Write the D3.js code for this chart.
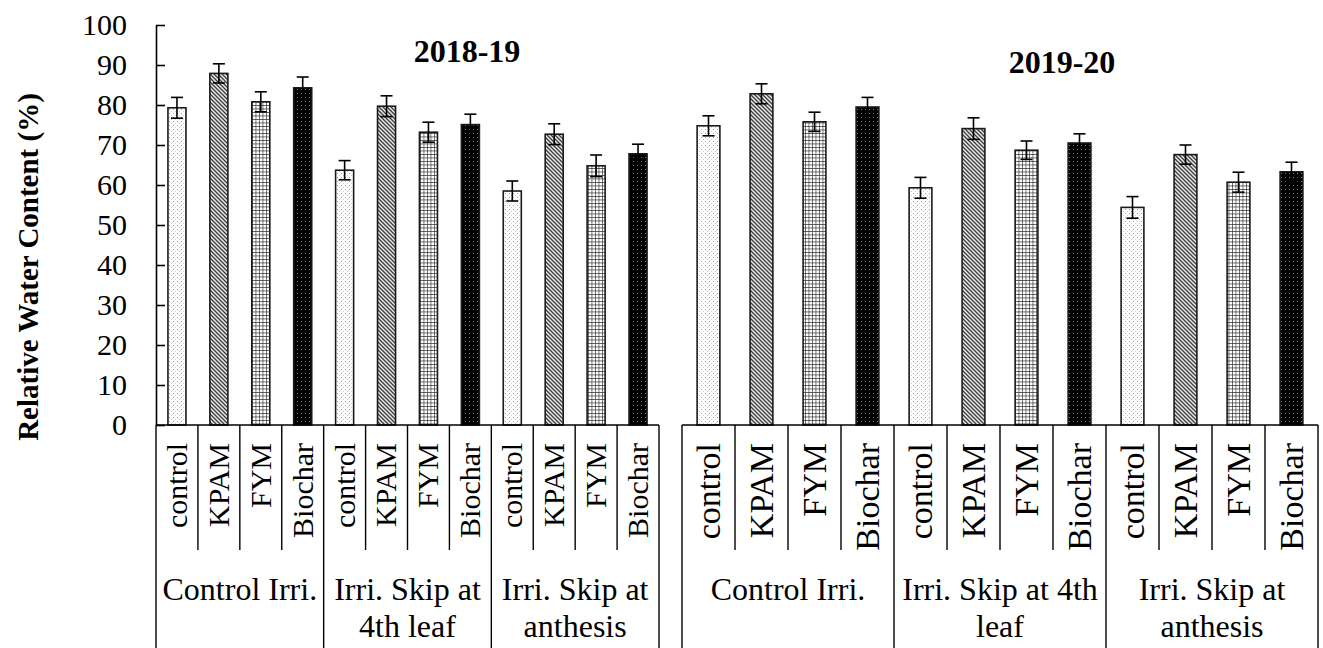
<!DOCTYPE html>
<html>
<head>
<meta charset="utf-8">
<script src="https://cdn.jsdelivr.net/npm/d3@7"></script>
<style>
  html, body { margin: 0; padding: 0; background: #fff; }
  svg { display: block; }
  svg text { font-family: "Liberation Serif", "Times New Roman", serif; }
</style>
</head>
<body>
<svg id="chart" width="1323" height="648"></svg>
<script>
// Relative water content (%) by irrigation regime and soil amendment, two seasons
const treatments = ["control", "KPAM", "FYM", "Biochar"];
const irrigation = ["Control Irri.", "Irri. Skip at 4th leaf", "Irri. Skip at anthesis"];
const yTicks = [0, 10, 20, 30, 40, 50, 60, 70, 80, 90, 100];

// season 2018-19: rows follow `irrigation`, columns follow `treatments`
const rwc2018 = [
  [79.3, 87.9, 80.8, 84.3],
  [63.7, 79.7, 73.2, 75.1],
  [58.5, 72.7, 64.8, 67.8]
];
const se2018 = [
  [2.6, 2.4, 2.5, 2.7],
  [2.4, 2.6, 2.5, 2.6],
  [2.5, 2.6, 2.7, 2.4]
];
// season 2019-20
const rwc2019 = [
  [74.8, 82.8, 75.8, 79.5],
  [59.3, 74.1, 68.7, 70.5],
  [54.4, 67.6, 60.7, 63.3]
];
const se2019 = [
  [2.5, 2.5, 2.4, 2.4],
  [2.6, 2.7, 2.3, 2.3],
  [2.7, 2.4, 2.5, 2.4]
];
// group captions as wrapped per panel
const groupLines2018 = [["Control Irri."], ["Irri. Skip at", "4th leaf"], ["Irri. Skip at", "anthesis"]];
const groupLines2019 = [["Control Irri."], ["Irri. Skip at 4th", "leaf"], ["Irri. Skip at", "anthesis"]];

const svg = d3.select("#chart");
const baseY = 425, topY = 25, bottomY = 648;
const y = d3.scaleLinear().domain([0, 100]).range([baseY, topY]);

// ---- fill patterns ----
const defs = svg.append("defs");
// control: fine grey dots on white
const pDots = defs.append("pattern").attr("id", "p-control").attr("patternUnits", "userSpaceOnUse")
  .attr("width", 4).attr("height", 4);
pDots.append("rect").attr("width", 4).attr("height", 4).attr("fill", "#fff");
pDots.append("rect").attr("x", 1).attr("y", 1).attr("width", 1).attr("height", 1).attr("fill", "#9a9a9a");
pDots.append("rect").attr("x", 3).attr("y", 3).attr("width", 1).attr("height", 1).attr("fill", "#cfcfcf");
// KPAM: downward diagonal hatch
const pDiag = defs.append("pattern").attr("id", "p-kpam").attr("patternUnits", "userSpaceOnUse")
  .attr("width", 4).attr("height", 4);
pDiag.append("rect").attr("width", 4).attr("height", 4).attr("fill", "#e8e8e8");
pDiag.append("path").attr("d", "M-1,-1 L5,5 M-1,3 L1,5 M3,-1 L5,1")
  .attr("stroke", "#3c3c3c").attr("stroke-width", 1.3);
// FYM: small square grid
const pGrid = defs.append("pattern").attr("id", "p-fym").attr("patternUnits", "userSpaceOnUse")
  .attr("width", 3.5).attr("height", 3.5);
pGrid.append("rect").attr("width", 3.5).attr("height", 3.5).attr("fill", "#fff");
pGrid.append("path").attr("d", "M0,0 H3.5 M0,0 V3.5").attr("stroke", "#222").attr("stroke-width", 1.2);
// Biochar: black with faint dots
const pBlack = defs.append("pattern").attr("id", "p-biochar").attr("patternUnits", "userSpaceOnUse")
  .attr("width", 4).attr("height", 4);
pBlack.append("rect").attr("width", 4).attr("height", 4).attr("fill", "#000");
pBlack.append("rect").attr("x", 1).attr("y", 1).attr("width", 1).attr("height", 1).attr("fill", "#7a7a7a");

const fills = { control: "url(#p-control)", KPAM: "url(#p-kpam)", FYM: "url(#p-fym)", Biochar: "url(#p-biochar)" };

function drawPanel(range, values, errors, groupLines, title, titlePos, labelSize) {
  const g = svg.append("g");
  const gx = d3.scaleBand().domain(irrigation).range(range).padding(0);
  const sx = d3.scaleBand().domain(treatments).range([0, gx.bandwidth()]).padding(0);
  const barW = sx.bandwidth() * 0.43;

  const rows = [];
  irrigation.forEach((irr, i) => treatments.forEach((t, j) => rows.push({
    irr, t, v: values[i][j], e: errors[i][j], cx: gx(irr) + sx(t) + sx.bandwidth() / 2
  })));

  // bars
  g.selectAll("rect.bar").data(rows).join("rect").attr("class", "bar")
    .attr("x", d => d.cx - barW / 2).attr("width", barW)
    .attr("y", d => y(d.v)).attr("height", d => y(0) - y(d.v))
    .attr("fill", d => fills[d.t]).attr("stroke", "#1a1a1a").attr("stroke-width", 1.6);

  // error bars
  const cap = 6;
  const eb = g.selectAll("g.err").data(rows).join("g").attr("class", "err")
    .attr("stroke", "#000").attr("stroke-width", 1.6);
  eb.append("line").attr("x1", d => d.cx).attr("x2", d => d.cx)
    .attr("y1", d => y(d.v + d.e)).attr("y2", d => y(d.v - d.e));
  eb.append("line").attr("x1", d => d.cx - cap).attr("x2", d => d.cx + cap)
    .attr("y1", d => y(d.v + d.e)).attr("y2", d => y(d.v + d.e));
  eb.append("line").attr("x1", d => d.cx - cap).attr("x2", d => d.cx + cap)
    .attr("y1", d => y(d.v - d.e)).attr("y2", d => y(d.v - d.e));

  // baseline
  g.append("line").attr("x1", range[0]).attr("x2", range[1])
    .attr("y1", baseY).attr("y2", baseY).attr("stroke", "#000").attr("stroke-width", 1.6);

  // category table lines
  const inner = [];
  irrigation.forEach(irr => treatments.slice(1).forEach(t => inner.push(gx(irr) + sx(t))));
  g.selectAll("line.sub").data(inner).join("line").attr("class", "sub")
    .attr("x1", d => d).attr("x2", d => d).attr("y1", baseY).attr("y2", 550)
    .attr("stroke", "#000").attr("stroke-width", 1.4);
  const outer = irrigation.map(irr => gx(irr)).concat([range[1]]);
  g.selectAll("line.grp").data(outer).join("line").attr("class", "grp")
    .attr("x1", d => d).attr("x2", d => d).attr("y1", baseY).attr("y2", bottomY)
    .attr("stroke", "#000").attr("stroke-width", 1.4);

  // treatment labels (rotated)
  g.selectAll("text.tr").data(rows).join("text").attr("class", "tr")
    .attr("transform", d => `translate(${d.cx},443) rotate(-90)`)
    .attr("text-anchor", "end").attr("dy", "0.33em")
    .attr("font-size", labelSize).attr("fill", "#000").text(d => d.t);

  // irrigation group labels
  irrigation.forEach((irr, i) => {
    const cx = gx(irr) + gx.bandwidth() / 2;
    groupLines[i].forEach((line, k) => {
      g.append("text").attr("x", cx).attr("y", 600 + k * 36.5)
        .attr("text-anchor", "middle").attr("font-size", 32).attr("fill", "#000").text(line);
    });
  });

  // season title
  g.append("text").attr("x", titlePos[0]).attr("y", titlePos[1])
    .attr("text-anchor", "middle").attr("font-size", 32).attr("font-weight", "bold")
    .attr("fill", "#000").text(title);
}

drawPanel([156, 659], rwc2018, se2018, groupLines2018, "2018-19", [467, 62], 30);
drawPanel([682, 1318], rwc2019, se2019, groupLines2019, "2019-20", [1062, 73], 34);

// y axis
const yAxis = d3.axisLeft(y).tickValues(yTicks).tickSize(-9).tickSizeOuter(0).tickPadding(29);
const ax = svg.append("g").attr("transform", "translate(156,0)").call(yAxis);
ax.attr("font-family", null);
ax.select(".domain").attr("stroke", "#000").attr("stroke-width", 1.6);
ax.selectAll(".tick line").attr("stroke", "#000").attr("stroke-width", 1.6);
ax.selectAll(".tick text").attr("font-size", 30).attr("fill", "#000")
  .style("font-family", "'Liberation Serif', 'Times New Roman', serif");

// y axis title
svg.append("text").attr("transform", "translate(38,267) rotate(-90)")
  .attr("text-anchor", "middle").attr("font-size", 29).attr("font-weight", "bold")
  .attr("fill", "#000").text("Relative Water Content (%)");
</script>
</body>
</html>
